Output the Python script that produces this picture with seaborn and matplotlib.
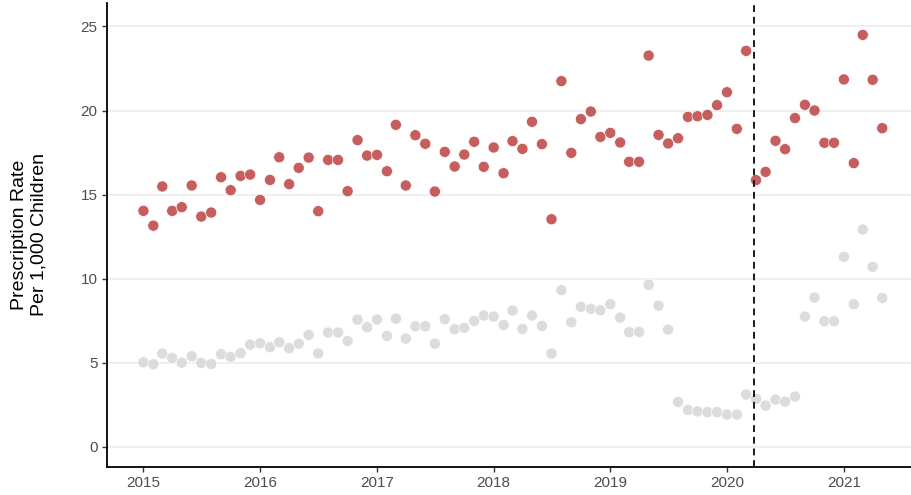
import pandas as pd
import numpy as np
import matplotlib
matplotlib.use('Agg')
import matplotlib.pyplot as plt
import matplotlib.dates as mdates
import seaborn as sns

# -------------------------------
# DATA
# -------------------------------

months = pd.date_range('2015-01-01', '2021-05-01', freq='MS')

red_rate = [
    14.03, 13.15, 15.48, 14.03, 14.25, 15.54, 13.69, 13.93, 16.03, 15.26, 16.11, 16.19,
    14.68, 15.87, 17.22, 15.62, 16.59, 17.20, 14.01, 17.06, 17.06, 15.20, 18.24, 17.32,
    17.36, 16.39, 19.15, 15.54, 18.53, 18.02, 15.18, 17.54, 16.67, 17.38, 18.14, 16.65,
    17.80, 16.27, 18.18, 17.72, 19.33, 18.00, 13.53, 21.75, 17.48, 19.49, 19.94, 18.43,
    18.67, 18.10, 16.95, 16.95, 23.27, 18.55, 18.04, 18.35, 19.62, 19.66, 19.74, 20.32,
    21.09, 18.91, 23.55, 15.86, 16.35, 18.20, 17.70, 19.55, 20.34, 20.00, 18.08, 18.08,
    21.85, 16.87, 24.50, 21.83, 18.95,
]

grey_rate = [
    5.02, 4.90, 5.54, 5.28, 5.00, 5.38, 4.98, 4.92, 5.50, 5.34, 5.56, 6.07,
    6.15, 5.92, 6.21, 5.86, 6.13, 6.65, 5.54, 6.79, 6.79, 6.29, 7.56, 7.11,
    7.56, 6.59, 7.62, 6.43, 7.16, 7.16, 6.13, 7.58, 6.99, 7.07, 7.48, 7.80,
    7.74, 7.24, 8.10, 7.00, 7.80, 7.18, 5.54, 9.31, 7.40, 8.32, 8.20, 8.12,
    8.47, 7.68, 6.81, 6.83, 9.63, 8.39, 6.97, 2.66, 2.18, 2.10, 2.05, 2.05,
    1.91, 1.91, 3.10, 2.84, 2.44, 2.80, 2.68, 2.98, 7.74, 8.87, 7.46, 7.46,
    11.29, 8.47, 12.92, 10.70, 8.85,
]

cutoff_date = pd.Timestamp('2020-03-26')

year_ticks = pd.date_range('2015-01-01', '2021-01-01', freq='YS')
y_ticks = [0, 5, 10, 15, 20, 25]

df = pd.DataFrame({
    'month': list(months) * 2,
    'rate': red_rate + grey_rate,
    'group': ['red'] * len(red_rate) + ['grey'] * len(grey_rate)
})

# -------------------------------
# PLOT
# -------------------------------

sns.set_style('white')
plt.rcParams['font.family'] = ['Liberation Sans', 'DejaVu Sans']

fig = plt.figure(figsize=(9.11, 4.95), dpi=100)
ax = fig.add_axes([0.1171, 0.0566, 0.8829, 0.9374])

sns.scatterplot(
    data=df,
    x='month',
    y='rate',
    hue='group',
    hue_order=['grey', 'red'],
    palette={'red': '#C0504F', 'grey': '#D9D9D9'},
    s=64,
    alpha=0.92,
    edgecolor='white',
    linewidth=0.5,
    legend=False,
    ax=ax,
    zorder=3
)

ax.axvline(cutoff_date, color='#1a1a1a', linestyle=(0, (3.5, 2.5)), linewidth=1.4, zorder=4)

ax.set_xlim(pd.Timestamp('2014-09-08'), pd.Timestamp('2021-07-30'))
ax.set_ylim(-1.21, 26.4)

ax.set_xticks(year_ticks)
ax.xaxis.set_major_formatter(mdates.DateFormatter('%Y'))
ax.set_yticks(y_ticks)

ax.grid(axis='y', color='#EBEBEB', linewidth=1.1)
ax.grid(axis='x', visible=False)
ax.set_axisbelow(True)

for side in ['top', 'right']:
    ax.spines[side].set_visible(False)
for side in ['left', 'bottom']:
    ax.spines[side].set_color('black')
    ax.spines[side].set_linewidth(1.3)

ax.tick_params(axis='both', which='major', length=3.5, width=1.0, color='#333333',
               labelsize=11, labelcolor='#4D4D4D', pad=3, left=True, bottom=True)

ax.set_xlabel('')
ax.set_ylabel('Prescription Rate\nPer 1,000 Children', fontsize=14, color='black', labelpad=24)

plt.savefig('out.png', dpi=100)
plt.close()
